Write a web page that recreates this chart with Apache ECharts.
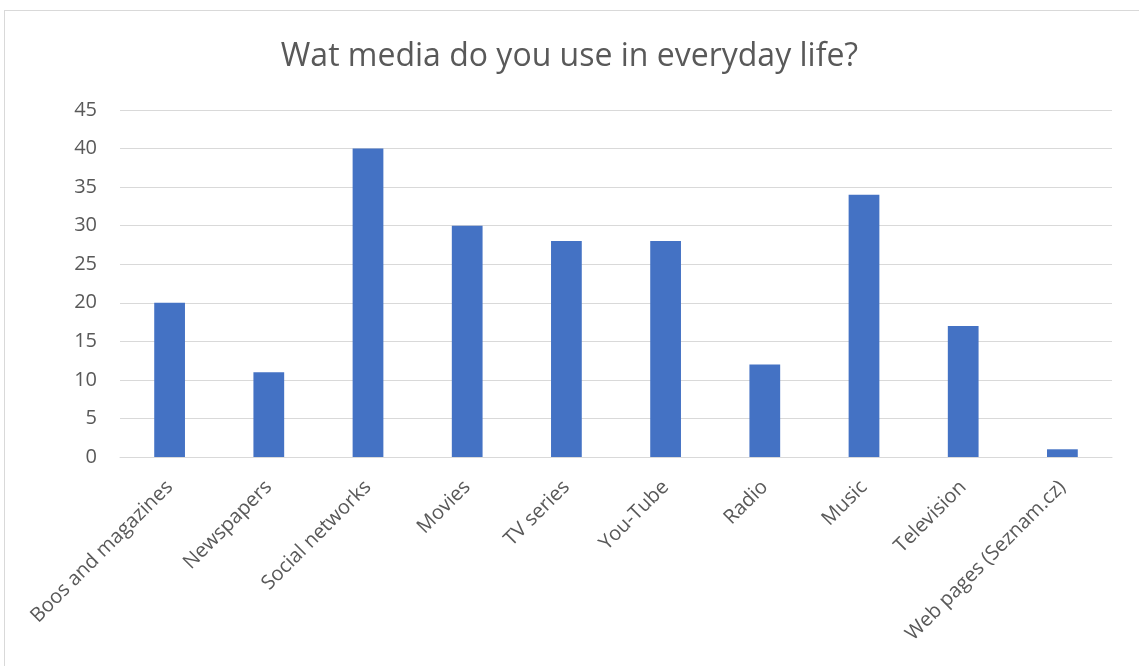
<!DOCTYPE html>
<html>
<head>
<meta charset="utf-8">
<script src="https://cdn.jsdelivr.net/npm/echarts@6/dist/echarts.min.js"></script>
<style>
  html, body { margin: 0; padding: 0; background: #ffffff; }
  #frame { position: absolute; left: 4px; top: 10px; width: 1160px; height: 700px; border: 1px solid #d9d9d9; box-sizing: border-box; }
  #chart { position: absolute; left: 0; top: 0; width: 1139px; height: 666px; }
</style>
</head>
<body>
<div id="frame"></div>
<div id="chart"></div>
<script>
// Survey answers: media used in everyday life
const categories = [
  'Boos and magazines', 'Newspapers', 'Social networks', 'Movies', 'TV series',
  'You-Tube', 'Radio', 'Music', 'Television', 'Web pages (Seznam.cz)'
];
const answers = [20, 11, 40, 30, 28, 28, 12, 34, 17, 1];
const yTicks = { min: 0, max: 45, interval: 5 };

const chart = echarts.init(document.getElementById('chart'), null, { renderer: 'canvas' });
chart.setOption({
  animation: false,
  backgroundColor: 'transparent',
  title: {
    text: 'Wat media do you use in everyday life?',
    left: 'center',
    top: 36,
    textStyle: { fontFamily: 'Open Sans', fontWeight: 'normal', fontSize: 32, color: '#595959' }
  },
  grid: { left: 120, right: 27, top: 110, bottom: 209, containLabel: false },
  xAxis: {
    type: 'category',
    data: categories,
    axisLine: { show: true, lineStyle: { color: '#d9d9d9', width: 1 } },
    axisTick: { show: false },
    axisLabel: {
      interval: 0,
      rotate: 45,
      margin: 27,
      fontFamily: 'Open Sans',
      fontSize: 20,
      color: '#595959'
    }
  },
  yAxis: {
    type: 'value',
    min: yTicks.min,
    max: yTicks.max,
    interval: yTicks.interval,
    axisLine: { show: false },
    axisTick: { show: false },
    splitLine: { lineStyle: { color: '#d9d9d9', width: 1 } },
    axisLabel: { margin: 23, fontFamily: 'Open Sans', fontSize: 20, color: '#595959' }
  },
  series: [{
    type: 'bar',
    data: answers,
    barWidth: '31%',
    itemStyle: { color: '#4472c4' }
  }]
});
</script>
</body>
</html>
